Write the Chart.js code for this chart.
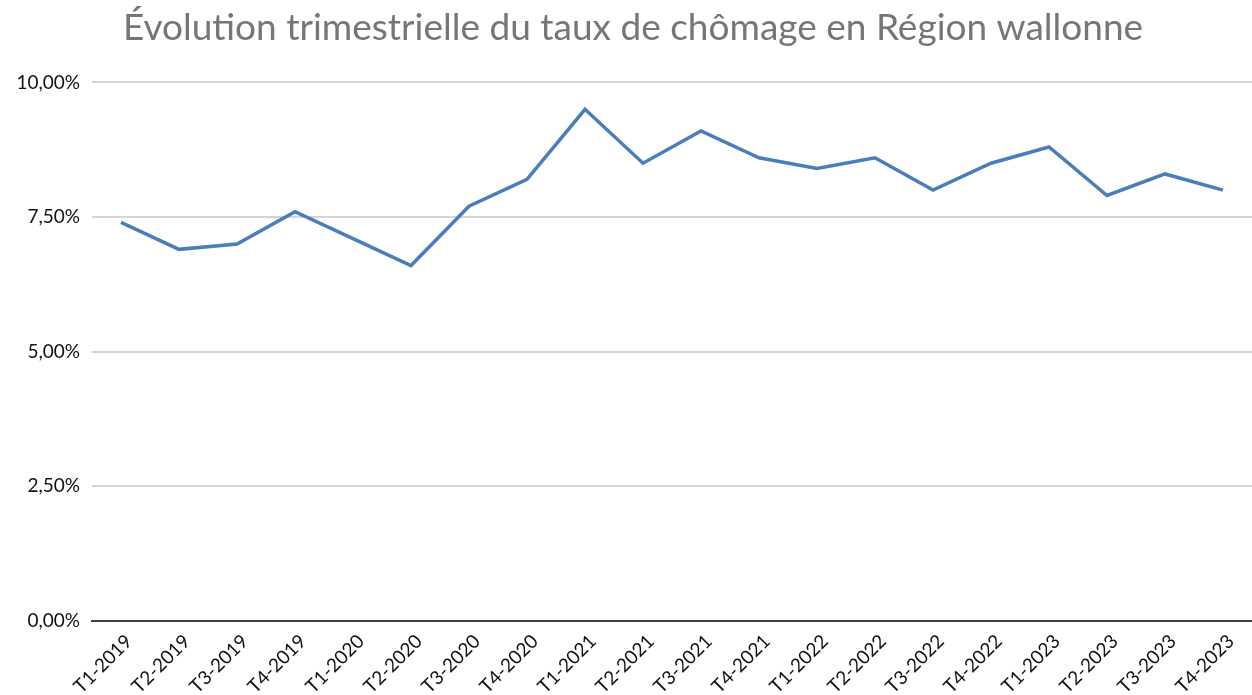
<!DOCTYPE html>
<html>
<head>
<meta charset="utf-8">
<script src="https://cdn.jsdelivr.net/npm/chart.js@4"></script>
<style>
html,body{margin:0;padding:0;background:#fff;}
#wrap{width:1252px;height:695px;position:relative;}
</style>
</head>
<body>
<div id="wrap"><canvas id="c" width="1252" height="695"></canvas></div>
<script>
const titleText = "Évolution trimestrielle du taux de chômage en Région wallonne";
const categories = ["T1-2019","T2-2019","T3-2019","T4-2019","T1-2020","T2-2020","T3-2020","T4-2020","T1-2021","T2-2021","T3-2021","T4-2021","T1-2022","T2-2022","T3-2022","T4-2022","T1-2023","T2-2023","T3-2023","T4-2023"];
const tauxChomage = [0.074,0.069,0.070,0.076,0.071,0.066,0.077,0.082,0.095,0.085,0.091,0.086,0.084,0.086,0.080,0.085,0.088,0.079,0.083,0.080];
const yTicks = [0,0.025,0.05,0.075,0.10];

const FONT = "Lato, 'Open Sans', sans-serif";
new Chart(document.getElementById('c'), {
  type: 'line',
  data: {
    labels: categories,
    datasets: [{
      label: 'Taux de chômage',
      data: tauxChomage,
      borderColor: '#4a7ebb',
      borderWidth: 3.5,
      pointRadius: 0,
      tension: 0,
      fill: false
    }]
  },
  options: {
    responsive: false,
    animation: false,
    layout: { padding: { left: 14, right: 0, top: 0, bottom: 0 } },
    plugins: {
      legend: { display: false },
      tooltip: { enabled: false },
      title: {
        display: true,
        text: titleText,
        color: '#767676',
        font: { family: FONT, size: 37, weight: 'normal' },
        padding: { top: 6, bottom: 32 }
      }
    },
    scales: {
      x: {
        offset: true,
        grid: { display: false, drawTicks: false },
        border: { display: true, color: '#3f3f3f', width: 2 },
        ticks: {
          color: '#111',
          font: { family: FONT, size: 19 },
          minRotation: 45, maxRotation: 45,
          autoSkip: false,
          labelOffset: 8,
          padding: 9
        },
        afterFit: (s) => { s.height = 74; s.paddingLeft = 0; s.paddingRight = 0; }
      },
      y: {
        min: 0, max: 0.10,
        afterBuildTicks: (scale) => { scale.ticks = yTicks.map(v => ({ value: v })); },
        grid: {
          color: '#d4d4d4',
          lineWidth: 2,
          drawTicks: false
        },
        border: { display: false },
        ticks: {
          color: '#111',
          font: { family: FONT, size: 19 },
          padding: 12,
          callback: (v) => (v * 100).toFixed(2).replace('.', ',') + '%'
        },
        afterFit: (s) => { s.width = 78; }
      }
    }
  }
});
</script>
</body>
</html>
